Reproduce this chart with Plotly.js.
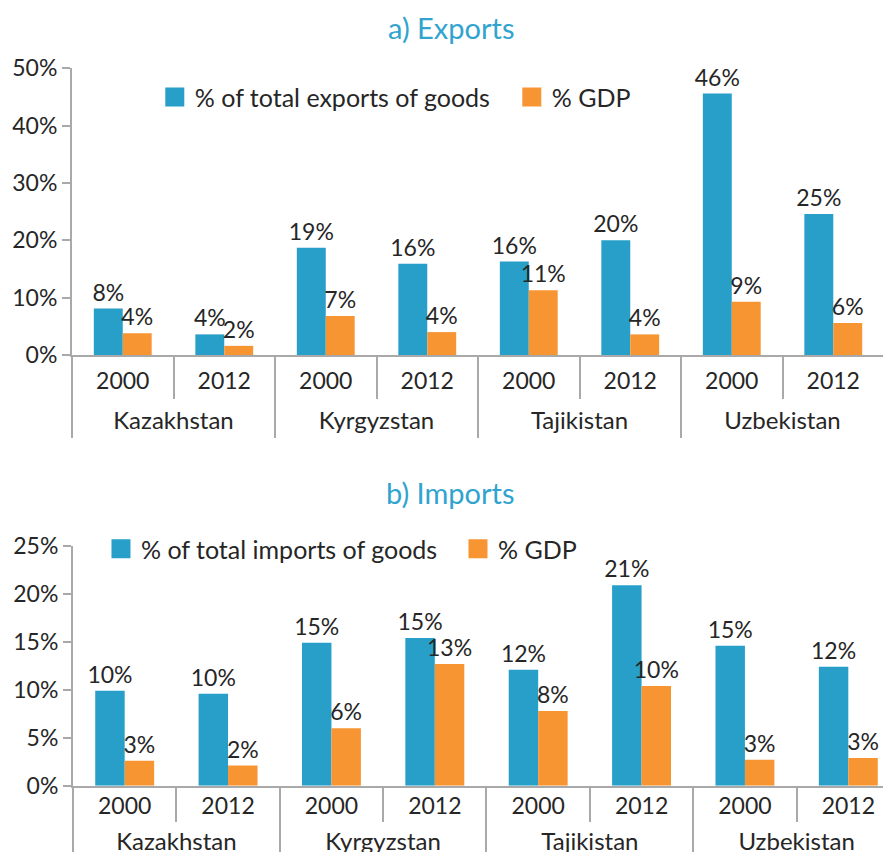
<!DOCTYPE html>
<html><head><meta charset="utf-8">
<script src="https://cdn.plot.ly/plotly-3.0.1.min.js"></script>
<style>html,body{margin:0;padding:0;overflow:hidden;background:#fff}</style>
</head><body><div id="chart" style="width:900px;height:852px"></div>
<script>
// ---- data ----
const countries = ['Kazakhstan', 'Kyrgyzstan', 'Tajikistan', 'Uzbekistan'];
const years = ['2000', '2012'];
const exportsShareOfGoods = [8.1, 3.6, 18.7, 15.9, 16.3, 20.0, 45.6, 24.6];
const exportsShareOfGDP   = [3.8, 1.6, 6.8, 4.0, 11.3, 3.6, 9.3, 5.6];
const importsShareOfGoods = [9.9, 9.6, 14.9, 15.4, 12.1, 20.9, 14.6, 12.4];
const importsShareOfGDP   = [2.6, 2.1, 6.0, 12.7, 7.8, 10.4, 2.7, 2.9];
const exportSeriesNames = ['% of total exports of goods', '% GDP'];
const importSeriesNames = ['% of total imports of goods', '% GDP'];
const exportTicks = [0, 10, 20, 30, 40, 50];
const importTicks = [0, 5, 10, 15, 20, 25];
const panelTitles = ['a) Exports', 'b) Imports'];

// ---- styling ----
const FONT = 'Lato, "Open Sans", sans-serif';
const TXT = '#262626';
const GRAY = '#a9a9a9';
const BLUE = '#279fc9';
const ORANGE = '#f79533';
const TITLE = '#30a4cf';

// category positions derived from the arrays (country x year)
const yearLabels = countries.flatMap(() => years);
const pos = yearLabels.map((_, i) => i);
const nPer = years.length;
const yearBounds = pos.concat([pos.length]).map(i => i - 0.5);
const countryCenters = countries.map((_, k) => k * nPer + (nPer - 1) / 2);
const countryBounds = countries.map((_, k) => k * nPer - 0.5).concat([countries.length * nPer - 0.5]);
const xRange = [-0.5, pos.length - 0.5];

function bar(y, color, xa, ya) {
  return {
    type: 'bar', x: pos, y: y, xaxis: xa, yaxis: ya,
    marker: {color: color},
    texttemplate: '%{y:.0f}%', textposition: 'outside', constraintext: 'none',
    cliponaxis: false, textfont: {size: 23, color: TXT, family: FONT},
    showlegend: false, hoverinfo: 'skip'
  };
}
// legend-only entries (no visible points); they also activate the country overlay axes
function legendItem(name, color, legend, xa, ya) {
  return {
    type: 'scatter', mode: 'markers', x: [pos[0]], y: [null], xaxis: xa, yaxis: ya,
    name: name, legend: legend, showlegend: true, hoverinfo: 'skip',
    marker: {symbol: 'square', size: 16, color: color, line: {color: color, width: 3}}
  };
}

const data = [
  bar(exportsShareOfGoods, BLUE, 'x', 'y'),
  bar(exportsShareOfGDP, ORANGE, 'x', 'y'),
  bar(importsShareOfGoods, BLUE, 'x2', 'y2'),
  bar(importsShareOfGDP, ORANGE, 'x2', 'y2'),
  legendItem(exportSeriesNames[0], BLUE, 'legend', 'x3', 'y'),
  legendItem(exportSeriesNames[1], ORANGE, 'legend', 'x3', 'y'),
  legendItem(importSeriesNames[0], BLUE, 'legend2', 'x4', 'y2'),
  legendItem(importSeriesNames[1], ORANGE, 'legend2', 'x4', 'y2')
];

// year-level axis (carries the bars)
function yearAxis(domain, anchor, standoff, tlen) {
  return {
    domain: domain, anchor: anchor, range: xRange, fixedrange: true,
    showline: true, linecolor: GRAY, linewidth: 2,
    tickmode: 'array', tickvals: pos, ticktext: yearLabels, ticks: '',
    ticklabelstandoff: standoff,
    minor: {tickmode: 'array', tickvals: yearBounds, ticks: 'outside', ticklen: tlen,
            tickwidth: 2, tickcolor: GRAY, showgrid: false},
    tickfont: {size: 23, color: TXT, family: FONT},
    showgrid: false, zeroline: false
  };
}
// country-level axis (overlay, labels + dividers)
function countryAxis(domain, anchor, over, standoff, tlen) {
  return {
    domain: domain, anchor: anchor, overlaying: over, side: 'bottom',
    range: xRange, fixedrange: true, showline: false,
    tickmode: 'array', tickvals: countryCenters, ticktext: countries, ticks: '',
    ticklabelstandoff: standoff,
    minor: {tickmode: 'array', tickvals: countryBounds, ticks: 'outside', ticklen: tlen,
            tickwidth: 2, tickcolor: GRAY, showgrid: false},
    tickfont: {size: 24, color: TXT, family: FONT},
    showgrid: false, zeroline: false
  };
}
function yAxis(domain, anchor, ticks) {
  return {
    domain: domain, anchor: anchor, range: [ticks[0], ticks[ticks.length - 1]],
    tickvals: ticks, ticktext: ticks.map(t => t + '%'),
    showline: true, linecolor: GRAY, linewidth: 2,
    ticks: 'outside', ticklen: 8, tickwidth: 2, tickcolor: GRAY,
    tickfont: {size: 23, color: TXT, family: FONT},
    showgrid: false, zeroline: false, fixedrange: true
  };
}
function legendCfg(x, y) {
  return {
    orientation: 'h', x: x, y: y, xanchor: 'left', yanchor: 'middle',
    font: {size: 25, color: TXT, family: FONT}, bgcolor: 'rgba(0,0,0,0)',
    entrywidth: 312, itemclick: false, itemdoubleclick: false
  };
}

const topX = [0, 0.9807], botX = [0.0012, 1];
const topY = [0.5833, 0.9198], botY = [0.0778, 0.3592];

const layout = {
  width: 900, height: 852,
  margin: {l: 72, r: 0, t: 0, b: 0},
  paper_bgcolor: '#fff', plot_bgcolor: '#fff',
  font: {family: FONT, color: TXT, size: 23},
  barmode: 'group', bargap: 0.43, bargroupgap: 0,
  xaxis: yearAxis(topX, 'y', 4, 42),
  yaxis: yAxis(topY, 'x', exportTicks),
  xaxis2: yearAxis(botX, 'y2', -1, 34),
  yaxis2: yAxis(botY, 'x2', importTicks),
  xaxis3: countryAxis(topX, 'y', 'x', 49, 82),
  xaxis4: countryAxis(botX, 'y2', 'x2', 39, 82),
  legend: legendCfg(0.10, 0.886),
  legend2: legendCfg(0.035, 0.3556),
  annotations: [
    {text: panelTitles[0], xref: 'paper', yref: 'paper', x: 0.4577, y: 0.9683,
     xanchor: 'center', yanchor: 'middle', showarrow: false, font: {size: 29, color: TITLE, family: FONT}},
    {text: panelTitles[1], xref: 'paper', yref: 'paper', x: 0.4577, y: 0.4214,
     xanchor: 'center', yanchor: 'middle', showarrow: false, font: {size: 29, color: TITLE, family: FONT}}
  ],
  hovermode: false
};

Plotly.newPlot('chart', data, layout, {displayModeBar: false, staticPlot: true});
</script></body></html>
